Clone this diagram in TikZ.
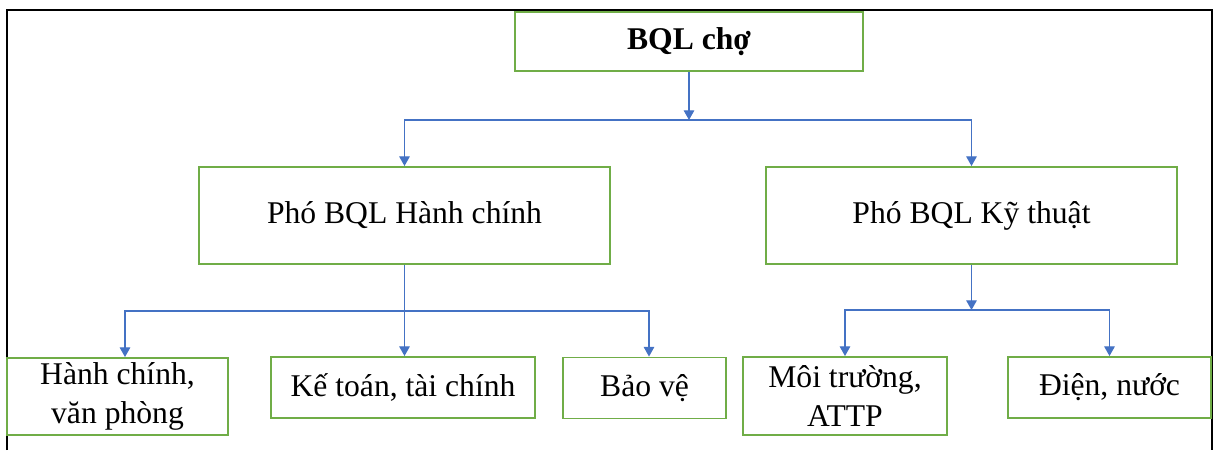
\documentclass[tikz,border=0pt]{standalone}
\usepackage{fontspec}
\setmainfont{Liberation Serif}
\usetikzlibrary{arrows.meta}
\begin{document}
\begin{tikzpicture}[x=0.02cm,y=-0.02cm]
	\tikzstyle{every node}=[font=\fontsize{18}{22}\selectfont]
	\tikzstyle{box}=[draw={rgb,255:red,112; green,173; blue,71}, line width=1.1pt, align=center, inner sep=0pt]
	\tikzstyle{link}=[color={rgb,255:red,68; green,114; blue,196}, line width=0.7pt, -{Triangle[width=6pt,length=5.5pt]}]
	\useasboundingbox (0,0) rectangle (1214,450);
	\draw [line width=1.6pt] (7,450) -- (7,10) -- (1212,10) -- (1212,450);
	% boxes
	\node [box, minimum width=6.96cm, minimum height=1.18cm, font=\fontsize{18}{22}\selectfont\bfseries] (top) at (689,41.5) {BQL chợ};
	\node [box, minimum width=8.22cm, minimum height=1.94cm] (hc) at (404.5,215.5) {Phó BQL Hành chính};
	\node [box, minimum width=8.22cm, minimum height=1.94cm] (kt) at (971.5,215.5) {Phó BQL Kỹ thuật};
	\node [box, minimum width=4.42cm, minimum height=1.54cm] (hcvp) at (117.5,396.5) {Hành chính,\\văn phòng};
	\node [box, minimum width=5.28cm, minimum height=1.22cm] (ketoan) at (403,387.5) {Kế toán, tài chính};
	\node [box, minimum width=3.26cm, minimum height=1.22cm] (baove) at (644.5,388) {Bảo vệ};
	\node [box, minimum width=4.08cm, minimum height=1.56cm] (mt) at (845,396) {Môi trường,\\ATTP};
	\node [box, minimum width=4.06cm, minimum height=1.22cm] (dn) at (1109.5,387.5) {Điện, nước};
	% connectors
	\coordinate (b1) at (689,120);
	\coordinate (b2) at (404.5,311);
	\coordinate (b3) at (971.5,310);
	\draw [link] (top.south) -- (b1);
	\draw [link] (b1) -| (hc.north);
	\draw [link] (b1) -| (kt.north);
	\draw [link] (hc.south) -- (hc.south |- ketoan.north);
	\draw [link] (b2) -| ([xshift=0.15cm]hcvp.north);
	\draw [link] (b2) -| ([xshift=0.09cm]baove.north);
	\draw [link] (kt.south) -- (b3);
	\draw [link] (b3) -| (mt.north);
	\draw [link] (b3) -| (dn.north);
\end{tikzpicture}
\end{document}
